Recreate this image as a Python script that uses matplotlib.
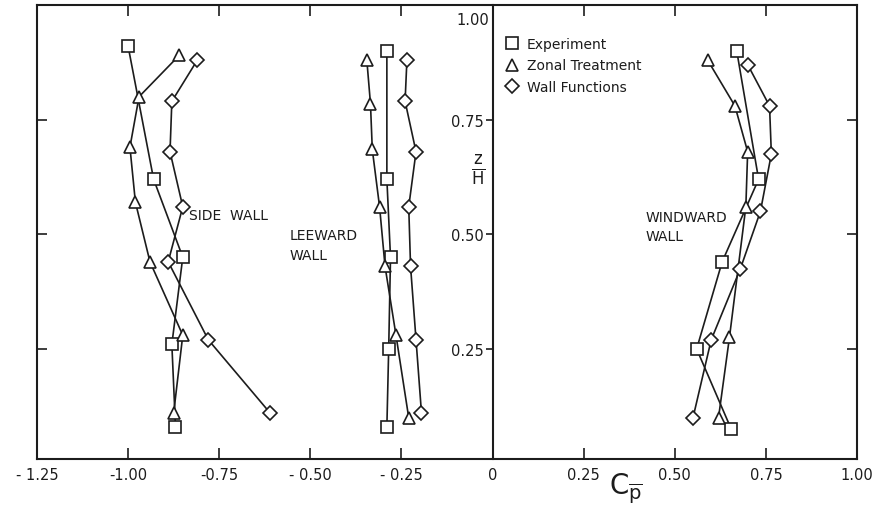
import numpy as np
import matplotlib
matplotlib.use("Agg")
import matplotlib.pyplot as plt
from matplotlib.lines import Line2D

INK = "#1c1c1c"

# ---- data --------------------------------------------------------------
# side wall
side_exp_cp = [-1.00, -0.93, -0.85, -0.88, -0.87]
side_exp_z = [0.91, 0.62, 0.45, 0.26, 0.08]
side_zon_cp = [-0.86, -0.97, -0.995, -0.98, -0.94, -0.85, -0.875]
side_zon_z = [0.89, 0.80, 0.69, 0.57, 0.44, 0.28, 0.11]
side_wf_cp = [-0.81, -0.88, -0.885, -0.85, -0.89, -0.78, -0.61]
side_wf_z = [0.88, 0.79, 0.68, 0.56, 0.44, 0.27, 0.11]

# leeward wall
lee_exp_cp = [-0.29, -0.29, -0.28, -0.285, -0.29]
lee_exp_z = [0.90, 0.62, 0.45, 0.25, 0.08]
lee_zon_cp = [-0.345, -0.335, -0.33, -0.31, -0.295, -0.265, -0.23]
lee_zon_z = [0.88, 0.785, 0.685, 0.56, 0.43, 0.28, 0.10]
lee_wf_cp = [-0.235, -0.24, -0.21, -0.23, -0.225, -0.21, -0.195]
lee_wf_z = [0.88, 0.79, 0.68, 0.56, 0.43, 0.27, 0.11]

# windward wall
wind_exp_cp = [0.67, 0.73, 0.63, 0.56, 0.655]
wind_exp_z = [0.90, 0.62, 0.44, 0.25, 0.075]
wind_zon_cp = [0.59, 0.665, 0.70, 0.695, 0.65, 0.62]
wind_zon_z = [0.88, 0.78, 0.68, 0.56, 0.275, 0.10]
wind_wf_cp = [0.70, 0.76, 0.765, 0.735, 0.68, 0.60, 0.55]
wind_wf_z = [0.87, 0.78, 0.675, 0.55, 0.425, 0.27, 0.10]

xtick_vals = [-1.25, -1.00, -0.75, -0.50, -0.25, 0, 0.25, 0.50, 0.75, 1.00]
xtick_labels = ["- 1.25", "-1.00", "-0.75", "- 0.50", "- 0.25", "0",
                "0.25", "0.50", "0.75", "1.00"]
ztick_vals = [0.25, 0.50, 0.75]
ztick_labels = ["0.25", "0.50", "0.75"]

SERIES_STYLE = {
    "Experiment":      dict(marker="s", ms=8),
    "Zonal Treatment": dict(marker="^", ms=8.5),
    "Wall Functions":  dict(marker="D", ms=7.4),
}

plt.rcParams["font.family"] = "DejaVu Sans"
plt.rcParams["mathtext.fontset"] = "dejavusans"


def _series(ax, cp, z, name):
    st = SERIES_STYLE[name]
    ax.plot(cp, z, color=INK, lw=1.2, marker=st["marker"], ms=st["ms"],
            mfc="white", mec=INK, mew=1.2, zorder=3)


fig = plt.figure(figsize=(8.78, 5.06), dpi=100)
ax = fig.add_axes([37 / 878, 1 - 460 / 506, 820 / 878, 454 / 506])

walls = [
    (side_exp_cp, side_exp_z, side_zon_cp, side_zon_z, side_wf_cp, side_wf_z),
    (lee_exp_cp, lee_exp_z, lee_zon_cp, lee_zon_z, lee_wf_cp, lee_wf_z),
    (wind_exp_cp, wind_exp_z, wind_zon_cp, wind_zon_z, wind_wf_cp, wind_wf_z),
]
for ex, ez, zx, zz, wx, wz in walls:
    _series(ax, ex, ez, "Experiment")
    _series(ax, zx, zz, "Zonal Treatment")
    _series(ax, wx, wz, "Wall Functions")

ax.set_xlim(-1.25, 1.0)
ax.set_ylim(0.01, 1.0)
for s in ax.spines.values():
    s.set_linewidth(1.5)
    s.set_color(INK)

ax.set_xticks(xtick_vals, labels=xtick_labels)
ax.set_yticks(ztick_vals, labels=[])
ax.tick_params(axis="x", direction="in", length=8, width=1.2, top=True,
               labelsize=10.5, pad=6, colors=INK)
ax.tick_params(axis="y", direction="in", length=7, width=1.2, right=True,
               colors=INK)

# central z/H axis at Cp = 0
sec = ax.secondary_yaxis(1.25 / 2.25)
sec.set_alignment("left")
sec.spines["left"].set_linewidth(1.5)
sec.spines["left"].set_color(INK)
sec.set_yticks(ztick_vals, labels=ztick_labels)
sec.tick_params(direction="out", length=5, width=1.2, pad=1,
                labelsize=10.5, colors=INK)
ax.text(-0.008, 0.968, "1.00", ha="right", va="center", fontsize=10.5,
        color=INK)
ax.text(-0.040, 0.64, r"$\frac{\mathrm{z}}{\mathrm{H}}$", ha="center",
        va="center", fontsize=17, color=INK)

ax.set_xlabel(r"C$_{\overline{\mathrm{p}}}$", fontsize=20, color=INK)
ax.xaxis.set_label_coords(0.718, -0.026)

# wall labels
ax.text(-0.834, 0.541, "SIDE  WALL", ha="left", va="center", fontsize=10,
        color=INK)
ax.text(-0.557, 0.476, "LEEWARD\nWALL", ha="left", va="center", fontsize=10,
        linespacing=1.55, color=INK)
ax.text(0.42, 0.517, "WINDWARD\nWALL", ha="left", va="center", fontsize=10,
        linespacing=1.5, color=INK)

handles = [Line2D([], [], linestyle="none", marker=st["marker"],
                  ms=st["ms"], mfc="white", mec=INK, mew=1.2,
                  label=name)
           for name, st in SERIES_STYLE.items()]
leg = ax.legend(handles=handles, loc="upper left",
                bbox_to_anchor=(0.572, 0.93), frameon=False, fontsize=10,
                handlelength=0.8, handletextpad=0.7, labelspacing=0.55,
                borderaxespad=0, borderpad=0)
for t in leg.get_texts():
    t.set_color(INK)

fig.savefig("out.png", dpi=100)
plt.close(fig)
